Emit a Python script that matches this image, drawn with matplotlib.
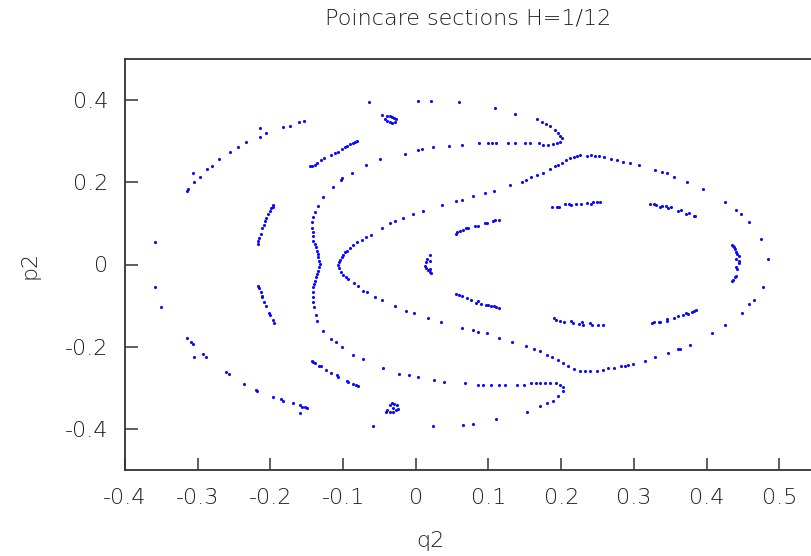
import numpy as np
import matplotlib
matplotlib.use("Agg")
import matplotlib.pyplot as plt

outer_left = [
    (-0.359, 0.055), (-0.315, 0.179), (-0.313, 0.183), (-0.305, 0.200), (-0.307, 0.222),
    (-0.297, 0.214), (-0.287, 0.232), (-0.281, 0.239), (-0.271, 0.257), (-0.255, 0.274),
    (-0.245, 0.285), (-0.233, 0.299), (-0.214, 0.311), (-0.214, 0.331), (-0.206, 0.320),
    (-0.183, 0.334), (-0.173, 0.338), (-0.161, 0.346), (-0.154, 0.349),
    (-0.359, -0.054), (-0.351, -0.104), (-0.315, -0.179), (-0.309, -0.189), (-0.307, -0.193),
    (-0.305, -0.224), (-0.293, -0.218), (-0.289, -0.224), (-0.261, -0.262), (-0.257, -0.266),
    (-0.236, -0.290), (-0.220, -0.305), (-0.219, -0.307), (-0.197, -0.323), (-0.185, -0.327),
    (-0.182, -0.331), (-0.169, -0.337), (-0.159, -0.341), (-0.157, -0.346), (-0.152, -0.346),
    (-0.149, -0.349), (-0.159, -0.362),
]

islands_left = [
    (-0.217, 0.050), (-0.217, 0.058), (-0.215, 0.064), (-0.213, 0.074), (-0.211, 0.090),
    (-0.209, 0.096), (-0.207, 0.106), (-0.206, 0.114), (-0.203, 0.123), (-0.201, 0.131),
    (-0.199, 0.137), (-0.197, 0.141), (-0.196, 0.145),
    (-0.217, -0.052), (-0.215, -0.058), (-0.213, -0.066), (-0.212, -0.076), (-0.211, -0.080),
    (-0.209, -0.092), (-0.206, -0.100), (-0.202, -0.118), (-0.200, -0.122), (-0.197, -0.134),
    (-0.195, -0.142),
]

arcs_mid = [
    (-0.146, 0.239), (-0.143, 0.240), (-0.139, 0.243), (-0.136, 0.246), (-0.130, 0.254),
    (-0.126, 0.260), (-0.117, 0.266), (-0.111, 0.271), (-0.107, 0.274), (-0.102, 0.282),
    (-0.097, 0.285), (-0.094, 0.289), (-0.090, 0.293), (-0.086, 0.296), (-0.084, 0.298),
    (-0.081, 0.300),
    (-0.143, -0.234), (-0.141, -0.238), (-0.139, -0.239), (-0.133, -0.246), (-0.131, -0.248),
    (-0.123, -0.256), (-0.117, -0.264), (-0.109, -0.270), (-0.107, -0.273), (-0.095, -0.284),
    (-0.093, -0.285), (-0.086, -0.290), (-0.082, -0.293), (-0.079, -0.295),
]

small_loops = [
    (-0.046, 0.363), (-0.040, 0.362), (-0.036, 0.362), (-0.033, 0.358), (-0.030, 0.356),
    (-0.027, 0.354), (-0.029, 0.347), (-0.033, 0.344), (-0.036, 0.346), (-0.040, 0.349),
    (-0.043, 0.354),
    (-0.041, -0.358), (-0.039, -0.355), (-0.036, -0.343), (-0.033, -0.337), (-0.030, -0.339),
    (-0.026, -0.343), (-0.024, -0.351), (-0.027, -0.355), (-0.031, -0.359), (-0.035, -0.358),
    (-0.032, -0.349),
]

big_orbit = [
    (-0.064, 0.396), (0.003, 0.398), (0.021, 0.398), (0.059, 0.396), (0.109, 0.380),
    (0.137, 0.367), (0.167, 0.354), (0.173, 0.347), (0.179, 0.341), (0.185, 0.336),
    (0.192, 0.328), (0.195, 0.320), (0.198, 0.312), (0.201, 0.307), (0.198, 0.298),
    (0.194, 0.295), (0.189, 0.293), (0.182, 0.291), (0.175, 0.291), (0.169, 0.295),
    (0.157, 0.295), (0.150, 0.295), (0.137, 0.295), (0.127, 0.295), (0.111, 0.295),
    (0.105, 0.295), (0.099, 0.295), (0.087, 0.295), (0.064, 0.291), (0.045, 0.288),
    (0.023, 0.285), (0.009, 0.282), (0.003, 0.278), (-0.015, 0.270), (-0.049, 0.256),
    (-0.069, 0.243), (-0.088, 0.222), (-0.101, 0.210), (-0.103, 0.206), (-0.114, 0.189),
    (-0.128, 0.165), (-0.134, 0.143), (-0.139, 0.127), (-0.141, 0.115), (-0.143, 0.103),
    (-0.143, 0.090), (-0.142, 0.078), (-0.142, 0.069), (-0.141, 0.058), (-0.139, 0.050),
    (-0.137, 0.042), (-0.136, 0.034), (-0.134, 0.026), (-0.134, 0.018), (-0.133, 0.009),
    (-0.132, 0.001), (-0.133, -0.007), (-0.135, -0.015), (-0.136, -0.023), (-0.137, -0.031),
    (-0.139, -0.039), (-0.140, -0.047), (-0.141, -0.055), (-0.141, -0.068), (-0.142, -0.080),
    (-0.142, -0.092), (-0.140, -0.104), (-0.137, -0.124), (-0.136, -0.137), (-0.127, -0.161),
    (-0.117, -0.181), (-0.110, -0.189), (-0.102, -0.201), (-0.087, -0.220), (-0.072, -0.231),
    (-0.045, -0.252), (-0.023, -0.266), (-0.010, -0.270), (0.003, -0.274), (0.025, -0.281),
    (0.039, -0.285), (0.067, -0.288), (0.085, -0.292), (0.093, -0.292), (0.103, -0.292),
    (0.115, -0.292), (0.123, -0.292), (0.139, -0.292), (0.149, -0.292), (0.159, -0.289),
    (0.166, -0.289), (0.171, -0.289), (0.178, -0.289), (0.185, -0.289), (0.193, -0.289),
    (0.198, -0.292), (0.203, -0.298), (0.202, -0.307), (0.196, -0.321), (0.189, -0.331),
    (0.181, -0.337), (0.171, -0.345), (0.153, -0.359), (0.111, -0.377), (0.079, -0.387),
    (0.065, -0.390), (0.023, -0.394), (-0.059, -0.394),
]

nose_orbit = [
    (-0.107, -0.001), (-0.106, 0.005), (-0.104, 0.011), (-0.102, 0.018), (-0.100, 0.024),
    (-0.097, 0.030), (-0.095, 0.034), (-0.091, 0.040), (-0.086, 0.047), (-0.081, 0.054),
    (-0.074, 0.060), (-0.069, 0.066), (-0.062, 0.072), (-0.046, 0.090), (-0.035, 0.101),
    (-0.029, 0.105), (-0.018, 0.112), (-0.004, 0.123), (0.010, 0.131), (0.036, 0.145),
    (0.055, 0.154), (0.063, 0.158), (0.078, 0.166), (0.095, 0.173), (0.108, 0.179),
    (0.130, 0.193), (0.146, 0.201), (0.152, 0.206), (0.158, 0.212), (0.167, 0.218),
    (0.175, 0.222), (0.184, 0.232), (0.192, 0.239), (0.196, 0.243), (0.201, 0.248),
    (0.207, 0.254), (0.212, 0.259), (0.217, 0.262), (0.222, 0.264), (0.226, 0.266),
    (0.236, 0.264), (0.241, 0.266), (0.247, 0.264), (0.252, 0.264), (0.259, 0.261),
    (0.269, 0.256), (0.277, 0.255), (0.285, 0.250), (0.295, 0.246), (0.307, 0.243),
    (0.329, 0.229), (0.339, 0.226), (0.346, 0.222), (0.355, 0.214), (0.373, 0.201),
    (0.395, 0.183), (0.425, 0.151), (0.440, 0.133), (0.447, 0.123), (0.459, 0.103),
    (0.475, 0.062), (0.485, 0.013), (0.477, -0.054), (0.465, -0.086), (0.459, -0.096),
    (0.449, -0.118), (0.425, -0.146), (0.407, -0.167), (0.377, -0.196), (0.363, -0.206),
    (0.360, -0.206), (0.347, -0.216), (0.329, -0.224), (0.315, -0.235), (0.299, -0.242),
    (0.292, -0.244), (0.288, -0.246), (0.282, -0.248), (0.273, -0.252), (0.265, -0.252),
    (0.257, -0.256), (0.249, -0.260), (0.240, -0.260), (0.233, -0.260), (0.226, -0.258),
    (0.217, -0.254), (0.209, -0.247), (0.202, -0.240), (0.196, -0.232), (0.187, -0.224),
    (0.180, -0.220), (0.171, -0.210), (0.163, -0.205), (0.151, -0.199), (0.133, -0.189),
    (0.115, -0.179), (0.098, -0.167), (0.085, -0.164), (0.079, -0.160), (0.063, -0.154),
    (0.035, -0.139), (0.017, -0.129), (-0.003, -0.118), (-0.013, -0.112), (-0.029, -0.100),
    (-0.046, -0.086), (-0.056, -0.078), (-0.067, -0.068), (-0.072, -0.064), (-0.079, -0.053),
    (-0.085, -0.046), (-0.093, -0.035), (-0.096, -0.031), (-0.100, -0.026), (-0.103, -0.018),
    (-0.105, -0.009),
]

# chaine d'iles interne (8 iles)
island_chain = [
    # gauche
    (0.020, 0.023), (0.016, 0.013), (0.014, 0.005), (0.013, -0.003), (0.014, -0.009),
    (0.017, -0.013), (0.019, -0.018), (0.021, -0.021), (0.020, -0.011), (0.019, 0.009),
    # haut 1
    (0.055, 0.074), (0.057, 0.078), (0.061, 0.081), (0.065, 0.085), (0.069, 0.088),
    (0.072, 0.088), (0.081, 0.094), (0.085, 0.094), (0.095, 0.101), (0.098, 0.101),
    (0.106, 0.106), (0.109, 0.108), (0.114, 0.108),
    # bas 1
    (0.055, -0.072), (0.059, -0.074), (0.063, -0.077), (0.071, -0.082), (0.076, -0.086),
    (0.083, -0.094), (0.085, -0.090), (0.090, -0.096), (0.097, -0.098), (0.100, -0.098),
    (0.104, -0.102), (0.108, -0.102), (0.110, -0.104), (0.114, -0.106),
    # haut 2
    (0.187, 0.141), (0.194, 0.141), (0.197, 0.141), (0.205, 0.147), (0.211, 0.147),
    (0.213, 0.145), (0.221, 0.147), (0.227, 0.147), (0.235, 0.149), (0.241, 0.147),
    (0.244, 0.153), (0.249, 0.153), (0.254, 0.151),
    # bas 2
    (0.190, -0.131), (0.193, -0.135), (0.198, -0.137), (0.204, -0.139), (0.213, -0.137),
    (0.216, -0.143), (0.225, -0.145), (0.228, -0.141), (0.230, -0.146), (0.240, -0.143),
    (0.243, -0.146), (0.250, -0.147), (0.257, -0.146),
    # haut 3
    (0.322, 0.147), (0.327, 0.147), (0.330, 0.145), (0.336, 0.141), (0.338, 0.143),
    (0.344, 0.143), (0.347, 0.137), (0.351, 0.139), (0.360, 0.129), (0.365, 0.132),
    (0.371, 0.123), (0.376, 0.125), (0.382, 0.119), (0.384, 0.119),
    # bas 3
    (0.325, -0.142), (0.327, -0.141), (0.334, -0.139), (0.336, -0.139), (0.345, -0.132),
    (0.345, -0.137), (0.355, -0.131), (0.360, -0.126), (0.367, -0.124), (0.372, -0.118),
    (0.374, -0.120), (0.380, -0.116), (0.382, -0.114), (0.385, -0.111),
    # droite
    (0.435, 0.047), (0.436, 0.044), (0.438, 0.042), (0.439, 0.038), (0.440, 0.030),
    (0.442, 0.026), (0.444, 0.021), (0.441, 0.013), (0.445, 0.009), (0.445, 0.003),
    (0.441, -0.007), (0.442, -0.011), (0.440, -0.027), (0.439, -0.031), (0.437, -0.037),
    (0.435, -0.041),
]

orbits = [outer_left, islands_left, arcs_mid, small_loops, big_orbit, nose_orbit, island_chain]

plt.rcParams['font.family'] = 'DejaVu Sans'
plt.rcParams['font.weight'] = 'light'
text_color = '#1e1e1e'

fig = plt.figure(figsize=(8.12, 5.56), dpi=100)
# axes un peu plus large que la figure : le bord droit est coupe comme dans l'image
ax = fig.add_axes([125 / 812, 86 / 556, 727 / 812, 411 / 556])

for orb in orbits:
    pts = np.array(orb)
    ax.scatter(pts[:, 0], pts[:, 1], s=5, marker='o', color='#0a0aff', linewidths=0)

ax.set_xlim(-0.4, 0.6)
ax.set_ylim(-0.5, 0.5)
ax.set_xticks([-0.4, -0.3, -0.2, -0.1, 0, 0.1, 0.2, 0.3, 0.4, 0.5])
ax.set_xticklabels(['-0.4', '-0.3', '-0.2', '-0.1', '0', '0.1', '0.2', '0.3', '0.4', '0.5'])
ax.set_yticks([-0.4, -0.2, 0, 0.2, 0.4])
ax.set_yticklabels(['-0.4', '-0.2', '0', '0.2', '0.4'])

ax.tick_params(axis='both', direction='in', length=9, width=1.1, colors='#333333',
               labelsize=16, labelcolor=text_color)
ax.tick_params(axis='x', pad=13)
ax.tick_params(axis='y', pad=12)
for sp in ax.spines.values():
    sp.set_color('#333333')
    sp.set_linewidth(1.3)

fig.text(468 / 812, 1 - 18 / 556, "Poincare sections H=1/12", ha='center', va='center',
         fontsize=16, color=text_color)
fig.text(430 / 812, 1 - 541 / 556, "q2", ha='center', va='center', fontsize=16, color=text_color)
fig.text(30 / 812, 1 - 265 / 556, "p2", ha='center', va='center', rotation=90,
         fontsize=16, color=text_color)

fig.savefig("out.png", dpi=100)
